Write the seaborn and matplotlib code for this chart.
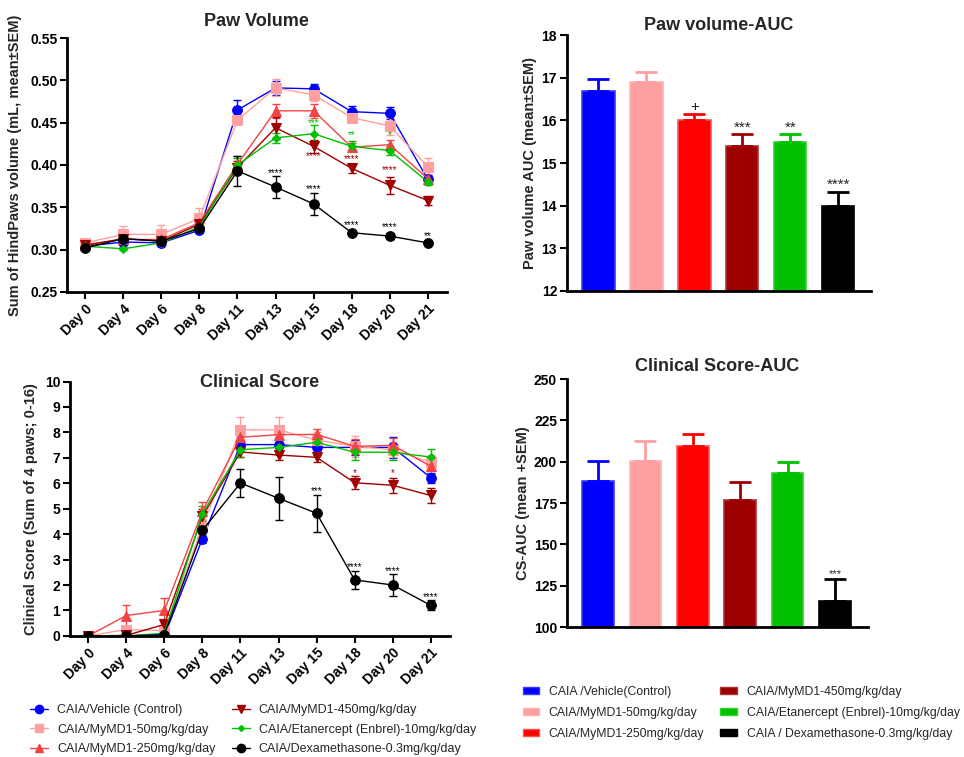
import numpy as np
import pandas as pd
import seaborn as sns
import matplotlib.pyplot as plt
from matplotlib.lines import Line2D
from matplotlib.patches import Patch

# ---- data ----
days = ["Day 0", "Day 4", "Day 6", "Day 8", "Day 11", "Day 13", "Day 15", "Day 18", "Day 20", "Day 21"]
line_groups = ["CAIA/Vehicle (Control)", "CAIA/MyMD1-50mg/kg/day", "CAIA/MyMD1-250mg/kg/day",
               "CAIA/MyMD1-450mg/kg/day", "CAIA/Etanercept (Enbrel)-10mg/kg/day",
               "CAIA/Dexamethasone-0.3mg/kg/day"]
bar_groups = ["CAIA /Vehicle(Control)", "CAIA/MyMD1-50mg/kg/day", "CAIA/MyMD1-250mg/kg/day",
              "CAIA/MyMD1-450mg/kg/day", "CAIA/Etanercept (Enbrel)-10mg/kg/day",
              "CAIA / Dexamethasone-0.3mg/kg/day"]

# paw volume (mL), mean and SEM
pv_vehicle = [0.304, 0.309, 0.308, 0.323, 0.465, 0.491, 0.490, 0.463, 0.461, 0.383]
pv_50 = [0.308, 0.318, 0.318, 0.337, 0.453, 0.491, 0.483, 0.456, 0.446, 0.398]
pv_250 = [0.306, 0.312, 0.312, 0.332, 0.401, 0.464, 0.464, 0.421, 0.424, 0.384]
pv_450 = [0.305, 0.313, 0.310, 0.330, 0.397, 0.444, 0.422, 0.396, 0.376, 0.358]
pv_enbrel = [0.304, 0.301, 0.308, 0.327, 0.400, 0.432, 0.437, 0.422, 0.417, 0.380]
pv_dex = [0.302, 0.313, 0.310, 0.325, 0.393, 0.374, 0.354, 0.320, 0.316, 0.308]

pv_sem_vehicle = [0.002, 0.003, 0.002, 0.003, 0.012, 0.008, 0.006, 0.007, 0.007, 0.005]
pv_sem_50 = [0.002, 0.010, 0.011, 0.012, 0.005, 0.010, 0.008, 0.005, 0.010, 0.010]
pv_sem_250 = [0.002, 0.004, 0.004, 0.004, 0.010, 0.008, 0.008, 0.005, 0.005, 0.004]
pv_sem_450 = [0.002, 0.003, 0.003, 0.003, 0.008, 0.013, 0.008, 0.005, 0.010, 0.005]
pv_sem_enbrel = [0.002, 0.002, 0.002, 0.003, 0.008, 0.006, 0.010, 0.006, 0.005, 0.004]
pv_sem_dex = [0.002, 0.003, 0.002, 0.003, 0.018, 0.013, 0.013, 0.002, 0.003, 0.002]

# clinical score, mean and SEM
cs_vehicle = [0, 0, 0, 3.82, 7.52, 7.52, 7.41, 7.41, 7.41, 6.22]
cs_50 = [0, 0.25, 0.2, 4.3, 8.1, 8.1, 7.7, 7.45, 7.32, 6.82]
cs_250 = [0, 0.8, 1.0, 4.9, 7.81, 7.91, 7.92, 7.45, 7.49, 6.67]
cs_450 = [0, 0.02, 0.45, 4.7, 7.23, 7.11, 7.02, 6.02, 5.92, 5.52]
cs_enbrel = [0, 0, 0.1, 4.8, 7.32, 7.41, 7.61, 7.22, 7.22, 7.03]
cs_dex = [0, 0, 0.05, 4.15, 6.01, 5.41, 4.82, 2.2, 2.0, 1.2]

cs_sem_vehicle = [0, 0, 0, 0.15, 0.3, 0.3, 0.3, 0.3, 0.4, 0.2]
cs_sem_50 = [0, 0.1, 0.15, 0.3, 0.5, 0.5, 0.3, 0.4, 0.3, 0.3]
cs_sem_250 = [0, 0.4, 0.5, 0.35, 0.3, 0.3, 0.2, 0.3, 0.3, 0.3]
cs_sem_450 = [0, 0.02, 0.15, 0.3, 0.2, 0.2, 0.2, 0.25, 0.3, 0.3]
cs_sem_enbrel = [0, 0, 0.05, 0.3, 0.3, 0.3, 0.3, 0.3, 0.3, 0.3]
cs_sem_dex = [0, 0, 0.05, 0.3, 0.55, 0.85, 0.72, 0.37, 0.45, 0.2]

# AUC bars
pv_auc = [16.7, 16.9, 16.0, 15.4, 15.5, 14.0]
pv_auc_sem = [0.27, 0.23, 0.15, 0.27, 0.17, 0.33]
cs_auc = [188.5, 200.5, 209.5, 177.0, 193.0, 115.5]
cs_auc_sem = [12.0, 12.0, 7.5, 10.5, 7.0, 13.5]

# significance marks: (day index, y, text, series index)
pv_marks = [(6, 0.449, "***", 4), (7, 0.435, "**", 4), (8, 0.435, "*", 4),
            (6, 0.410, "****", 3), (7, 0.407, "****", 3), (8, 0.394, "****", 3),
            (5, 0.391, "****", 5), (6, 0.372, "****", 5), (7, 0.329, "****", 5),
            (8, 0.327, "****", 5), (9, 0.316, "**", 5)]
cs_marks = [(7, 6.4, "*", 3), (8, 6.4, "*", 3),
            (6, 5.7, "***", 5), (7, 2.7, "****", 5), (8, 2.55, "****", 5), (9, 1.53, "****", 5)]
pv_auc_marks = ["", "", "+", "***", "**", "****"]
cs_auc_marks = ["", "", "", "", "", "***"]

line_colors = ["#0000FF", "#FFA0A0", "#F24444", "#A00000", "#00C000", "#000000"]
bar_colors = ["#0000FF", "#FFA0A0", "#FF0000", "#9C0000", "#00C000", "#000000"]
bar_edges = ["#3A3AFF", "#FFB4B4", "#FF5050", "#B03030", "#30D030", "#000000"]
markers = ["o", "s", "^", "v", "D", "o"]
msizes = [7, 7, 7, 7, 4, 7]

sns.set_theme(style="ticks")
plt.rcParams['font.family'] = ['Liberation Sans', 'DejaVu Sans']

fig = plt.figure(figsize=(9.64, 7.57), dpi=100)


def style_axis(ax):
    sns.despine(ax=ax)
    for s in ["left", "bottom"]:
        ax.spines[s].set_linewidth(2)
        ax.spines[s].set_color("black")
    ax.tick_params(axis="both", direction="out", length=5, width=1.5, colors="black",
                   labelsize=10, pad=2)
    for lab in ax.get_xticklabels() + ax.get_yticklabels():
        lab.set_fontweight("bold")


def line_panel(ax, means, sems, marks, title, ylabel, ylim, yticks, yfmt, tpad, lpad):
    x = np.arange(len(days))
    for i in range(len(means)):
        sns.lineplot(x=x, y=means[i], ax=ax, color=line_colors[i], marker=markers[i],
                     markersize=msizes[i], markeredgecolor=line_colors[i], linewidth=1,
                     errorbar=None, zorder=3 + i * 0.1)
        ax.errorbar(x, means[i], yerr=sems[i], fmt="none", ecolor=line_colors[i],
                    elinewidth=1, capsize=3, capthick=1, zorder=2)
    for d, y, t, si in marks:
        ax.text(d, y, t, color=line_colors[si], fontsize=7, ha="center", va="center")
    ax.set_xlim(-0.48, 9.5)
    ax.set_ylim(*ylim)
    ax.set_yticks(yticks)
    ax.set_yticklabels([yfmt.format(v) for v in yticks])
    ax.set_xticks(x)
    ax.set_xticklabels(days, rotation=45, ha="right", rotation_mode="anchor")
    ax.set_title(title, fontsize=13, fontweight="bold", pad=tpad, y=1.0)
    ax.set_ylabel(ylabel, fontsize=10.5, fontweight="bold", labelpad=lpad)
    ax.set_xlabel("")
    style_axis(ax)


def bar_panel(ax, vals, sems, marks, title, ylabel, ylim, yticks, markfs, tpad):
    x = np.arange(len(vals))
    df = pd.DataFrame({"group": bar_groups, "value": vals})
    sns.barplot(data=df, x="group", y="value", hue="group", palette=bar_colors,
                legend=False, ax=ax, width=0.67, linewidth=1.2, saturation=1)
    for p, ec in zip(ax.patches, bar_edges):
        p.set_edgecolor(ec)
    for i in range(len(vals)):
        ax.errorbar(x[i], vals[i], yerr=[[0], [sems[i]]], fmt="none",
                    ecolor=bar_colors[i], elinewidth=2, capsize=8, capthick=2, zorder=1)
    for i, t in enumerate(marks):
        if t:
            ax.text(i, vals[i] + sems[i], t, fontsize=markfs, ha="center", va="bottom",
                    color="#222222")
    ax.set_xlim(-0.66, 5.69)
    ax.set_ylim(*ylim)
    ax.set_yticks(yticks)
    ax.set_xticks([])
    ax.set_xlabel("")
    ax.set_title(title, fontsize=13, fontweight="bold", pad=tpad)
    ax.set_ylabel(ylabel, fontsize=10.5, fontweight="bold", labelpad=3)
    style_axis(ax)


ax1 = fig.add_axes([0.0695, 0.6143, 0.394, 0.3355])
line_panel(ax1, [pv_vehicle, pv_50, pv_250, pv_450, pv_enbrel, pv_dex],
           [pv_sem_vehicle, pv_sem_50, pv_sem_250, pv_sem_450, pv_sem_enbrel, pv_sem_dex],
           pv_marks, "Paw Volume", "Sum of HindPaws volume (mL, mean±SEM)",
           (0.25, 0.55), np.arange(0.25, 0.551, 0.05), "{:.2f}", 9, 6)

ax2 = fig.add_axes([0.0726, 0.160, 0.394, 0.336])
line_panel(ax2, [cs_vehicle, cs_50, cs_250, cs_450, cs_enbrel, cs_dex],
           [cs_sem_vehicle, cs_sem_50, cs_sem_250, cs_sem_450, cs_sem_enbrel, cs_sem_dex],
           cs_marks, "Clinical Score", "Clinical Score (Sum of 4 paws; 0-16)",
           (0, 10), np.arange(0, 11, 1), "{:.0f}", -4, 5)

ax3 = fig.add_axes([0.588, 0.6156, 0.316, 0.338])
bar_panel(ax3, pv_auc, pv_auc_sem, pv_auc_marks, "Paw volume-AUC", "Paw volume AUC (mean±SEM)",
          (12, 18), np.arange(12, 19, 1), 11, 4)

ax4 = fig.add_axes([0.588, 0.1717, 0.312, 0.3276])
bar_panel(ax4, cs_auc, cs_auc_sem, cs_auc_marks, "Clinical Score-AUC", "CS-AUC (mean +SEM)",
          (100, 250), np.arange(100, 251, 25), 8, 6)

# legends
line_handles = [Line2D([0], [0], color=line_colors[i], marker=markers[i], markersize=msizes[i] - 1,
                       linewidth=1) for i in range(len(line_groups))]
fig.legend(line_handles, line_groups, ncol=2, loc="upper left", bbox_to_anchor=(0.026, 0.0765),
           borderaxespad=0, frameon=False, fontsize=9, handlelength=1.45, columnspacing=1.28,
           labelspacing=0.6, handletextpad=0.72)

bar_handles = [Patch(facecolor=bar_colors[i], edgecolor=bar_edges[i]) for i in range(len(bar_groups))]
fig.legend(bar_handles, bar_groups, ncol=2, loc="upper left", bbox_to_anchor=(0.537, 0.1004),
           borderaxespad=0, frameon=False, fontsize=8.8, handlelength=1.35, handleheight=0.55,
           columnspacing=1.3, labelspacing=0.74, handletextpad=0.8)

fig.savefig("out.png", dpi=100)
